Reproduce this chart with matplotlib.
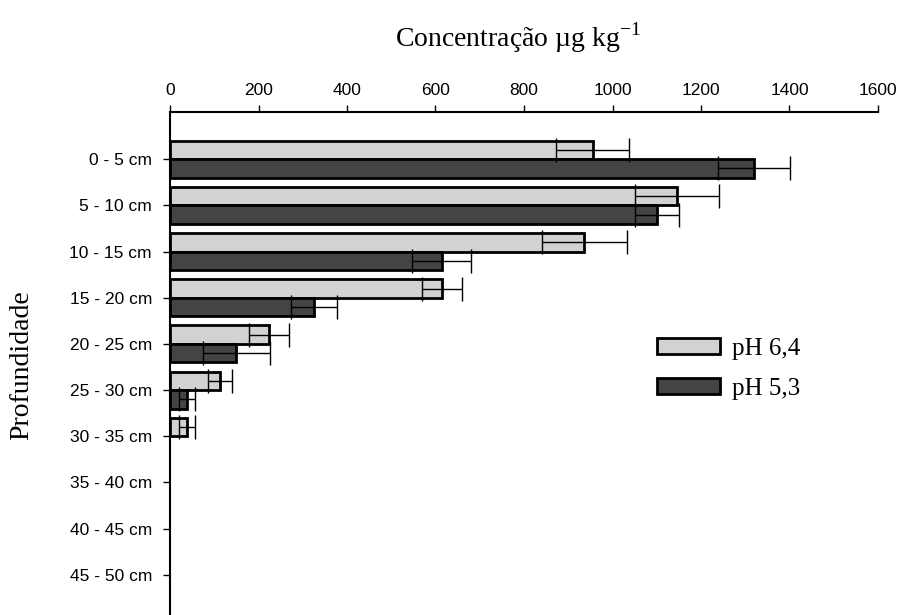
import numpy as np
import matplotlib
matplotlib.use("Agg")
import matplotlib.pyplot as plt

# --- Data ---
depths = ["0 - 5 cm", "5 - 10 cm", "10 - 15 cm", "15 - 20 cm", "20 - 25 cm",
          "25 - 30 cm", "30 - 35 cm", "35 - 40 cm", "40 - 45 cm", "45 - 50 cm"]
ph64 = [955, 1145, 936, 615, 224, 113, 38, 0, 0, 0]
ph64_err = [83, 95, 96, 45, 45, 26, 18, 0, 0, 0]
ph53 = [1320, 1100, 614, 325, 150, 38, 0, 0, 0, 0]
ph53_err = [82, 50, 66, 52, 75, 18, 0, 0, 0, 0]
xticks = [0, 200, 400, 600, 800, 1000, 1200, 1400, 1600]

serif = "Liberation Serif"
sans = "Liberation Sans"
plt.rcParams["mathtext.fontset"] = "custom"
plt.rcParams["mathtext.rm"] = serif

fig = plt.figure(figsize=(9.01, 6.15), dpi=100)
ax = fig.add_axes([170 / 901, 0.0, 708 / 901, (615 - 112) / 615])

y = np.arange(len(depths))
h = 0.4
light = "#d2d2d2"
dark = "#444444"


def draw_series(vals, errs, offset, color, label):
    v = np.array(vals, dtype=float)
    e = np.array(errs, dtype=float)
    show = v > 0
    ax.barh(y[show] + offset, v[show], height=h, color=color,
            edgecolor="black", linewidth=2, label=label, zorder=2)
    ax.errorbar(v[show], y[show] + offset, xerr=e[show], fmt="none",
                ecolor="black", elinewidth=1, capsize=8.5, capthick=1, zorder=3)


draw_series(ph64, ph64_err, -h / 2, light, "pH 6,4")
draw_series(ph53, ph53_err, h / 2, dark, "pH 5,3")

ax.set_xlim(0, 1600)
ax.set_ylim(9 + 40 / 46, -47 / 46)
ax.set_xticks(xticks)
ax.set_yticks(y)
ax.set_yticklabels(depths)
ax.xaxis.tick_top()
ax.tick_params(axis="both", direction="out", length=5, width=1, labelsize=12.5)
for lab in ax.get_xticklabels() + ax.get_yticklabels():
    lab.set_fontfamily(sans)
ax.tick_params(axis="x", pad=5)
ax.tick_params(axis="y", pad=8)

for s in ["right", "bottom"]:
    ax.spines[s].set_visible(False)
for s in ["left", "top"]:
    ax.spines[s].set_linewidth(1.5)

fig.text(518 / 901, 1 - 38 / 615, r"Concentração µg kg$^{\mathrm{-1}}$",
         ha="center", va="center", fontsize=20, family=serif)
fig.text(22 / 901, 1 - 365 / 615, "Profundidade", rotation=90,
         ha="center", va="center", fontsize=20, family=serif)

leg = fig.legend(loc="upper left", bbox_to_anchor=(657 / 901, 1 - 338 / 615),
                 frameon=False, prop={"family": serif, "size": 18},
                 handlelength=2.5, handleheight=0.6, labelspacing=0.7,
                 handletextpad=0.5, borderpad=0, borderaxespad=0)

fig.savefig("out.png", dpi=100)
